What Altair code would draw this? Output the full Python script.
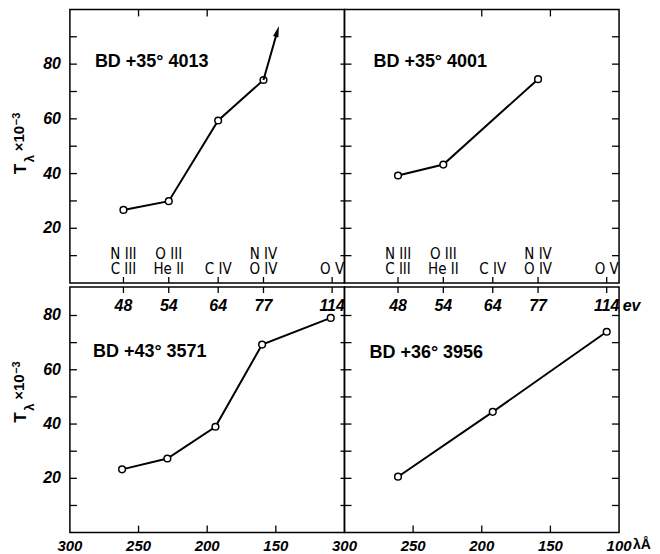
import altair as alt
import pandas as pd

# ---------------- data ----------------
ev_values = [48, 54, 64, 77, 114]            # ionisation energies (eV)
ev_lambda = [261, 228, 192, 159, 109]        # matching wavelengths (Å)
ion_upper = ["N III", "O III", "", "N IV", ""]
ion_lower = ["C III", "He II", "C IV", "O IV", "O V"]

star_names = ["BD +35° 4013", "BD +35° 4001", "BD +43° 3571", "BD +36° 3956"]

tl_lambda = [261, 228, 192, 159]
tl_T = [26.7, 29.9, 59.4, 74.2]
arrow_lambda = [159, 149.3]
arrow_T = [74.2, 91.3]

tr_lambda = [261, 228, 159]
tr_T = [39.3, 43.3, 74.5]

bl_lambda = [262, 229, 194, 160, 110]
bl_T = [23.3, 27.3, 39.0, 69.3, 79.1]

br_lambda = [261, 192, 109]
br_T = [20.6, 44.5, 74.0]

lambda_ticks = [300, 250, 200, 150, 100]
T_minor = [10, 20, 30, 40, 50, 60, 70, 80, 90]
T_labels = [20, 40, 60, 80]

# ---------------- style ----------------
FONT = "Liberation Sans, Arial, sans-serif"
NARROW = "Liberation Sans Narrow, DejaVu Sans Condensed, Roboto Condensed, Liberation Sans, sans-serif"
W = 275
H_TOP, H_BOT = 274, 246
YMAX_TOP, YMAX_BOT = 100, 90.5


def xsc():
    return alt.Scale(domain=[100, 300], reverse=True, nice=False, zero=False)


def ysc(ymax):
    return alt.Scale(domain=[0, ymax], nice=False, zero=False)


def X(field):
    return alt.X(field, type="quantitative", scale=xsc(), axis=None)


def Y(field, ymax):
    return alt.Y(field, type="quantitative", scale=ysc(ymax), axis=None)


def XD(v):
    return alt.XDatum(v, type="quantitative", scale=xsc(), axis=None)


def YD(v, ymax):
    return alt.YDatum(v, type="quantitative", scale=ysc(ymax), axis=None)


def vtick_rules(values, at, ymax, offset):
    """short ticks on a vertical panel edge (x fixed at 'at')"""
    df = pd.DataFrame({"v": values})
    return alt.Chart(df).mark_rule(color="black", strokeWidth=1.3, x2Offset=offset).encode(
        x=XD(at), x2=alt.X2Datum(at), y=Y("v", ymax))


def htick_rules(values, at, ymax, offset):
    """short ticks on a horizontal panel edge (y fixed at 'at')"""
    df = pd.DataFrame({"v": values})
    return alt.Chart(df).mark_rule(color="black", strokeWidth=1.3, y2Offset=offset).encode(
        x=X("v"), y=YD(at, ymax), y2=alt.Y2Datum(at))


def NUM(size=16):
    return dict(font=FONT, fontSize=size, fontWeight="bold", fontStyle="italic", color="black")


def panel(lam, T, name, name_pos, top, left):
    ymax = YMAX_TOP if top else YMAX_BOT
    h = H_TOP if top else H_BOT
    df = pd.DataFrame({"lam": lam, "T": T})

    line = alt.Chart(df).mark_line(color="black", strokeWidth=2).encode(x=X("lam"), y=Y("T", ymax))
    pts = alt.Chart(df).mark_point(shape="circle", size=45, filled=True, fill="white",
                                   stroke="black", strokeWidth=1.5, opacity=1).encode(
        x=X("lam"), y=Y("T", ymax))
    label = alt.Chart(pd.DataFrame({"lam": [name_pos[0]], "T": [name_pos[1]], "t": [name]})).mark_text(
        align="left", baseline="middle", font=FONT, fontSize=18, fontWeight="bold", color="black"
    ).encode(x=X("lam"), y=Y("T", ymax), text="t:N")

    layers = [line, pts, label]

    # frame ticks on the vertical edges
    lt = [v for v in T_minor if v < ymax - 2]
    layers.append(vtick_rules(lt, 300, ymax, 7))
    layers.append(vtick_rules(lt, 100, ymax, -4 if left else -7))

    if left:
        ylab = pd.DataFrame({"v": T_labels})
        layers.append(alt.Chart(ylab).mark_text(align="right", baseline="middle", dx=-9, **NUM(16)).encode(
            x=XD(300), y=Y("v", ymax), text=alt.Text("v:Q", format="d")))

    if top:
        # ev marks crossing the row divider (upper half), top edge wavelength marks
        layers.append(htick_rules(ev_lambda, 0, ymax, -6))
        layers.append(htick_rules([250, 200] if left else [200, 150], ymax, ymax, 7))
        ions = pd.DataFrame({"lam": ev_lambda, "up": ion_upper, "low": ion_lower})
        for col, yv in (("up", 10.6), ("low", 5.0)):
            layers.append(
                alt.Chart(ions).mark_text(font=NARROW, fontSize=15, color="black",
                                          align="center", baseline="middle").encode(
                    x=X("lam"), y=YD(yv, ymax), text=f"{col}:N"))
    else:
        # ev marks crossing the row divider (lower half) and their labels
        layers.append(htick_rules(ev_lambda, ymax, ymax, 6))
        evdf = pd.DataFrame({"lam": ev_lambda, "e": ev_values})
        layers.append(alt.Chart(evdf).mark_text(align="center", baseline="middle", dy=19, **NUM(16)).encode(
            x=X("lam"), y=YD(ymax, ymax), text=alt.Text("e:Q", format="d")))
        # bottom wavelength marks and labels
        layers.append(htick_rules([250, 200, 150], 0, ymax, -7))
        vals = lambda_ticks if not left else lambda_ticks[:-1]
        ldf = pd.DataFrame({"lab": vals})
        layers.append(alt.Chart(ldf).mark_text(align="center", baseline="middle", dy=13, **NUM(15)).encode(
            x=X("lab"), y=YD(0, ymax), text=alt.Text("lab:Q", format="d")))

    # y-axis title  T_lambda x 10^-3
    if left:
        base = 165 if top else 136
        parts = [("T", -44, base, 17), ("\u03bb", -36, base - 12, 13),
                 ("\u00d710", -46, base - 23, 15), ("\u22123", -50, base - 49, 11)]
        for txt, xv, yv, fs in parts:
            layers.append(
                alt.Chart(pd.DataFrame({"t": [txt]})).mark_text(
                    angle=270, align="left", baseline="alphabetic", font=FONT,
                    fontSize=fs, fontWeight="bold", color="black"
                ).encode(x=alt.value(xv), y=alt.value(yv), text="t:N"))
    return layers, h


# ----- top-left with arrow -----
layers, h = panel(tl_lambda, tl_T, star_names[0], (281.8, 80.9), True, True)
arrow_df = pd.DataFrame({"lam": arrow_lambda, "T": arrow_T})
layers.append(alt.Chart(arrow_df).mark_line(color="black", strokeWidth=2).encode(
    x=X("lam"), y=Y("T", YMAX_TOP)))
layers.append(alt.Chart(arrow_df.tail(1)).mark_point(
    shape="M0,-1L0.36,0.5L-0.36,0.5Z", size=230, filled=True, color="black", opacity=1, angle=16
).encode(x=X("lam"), y=Y("T", YMAX_TOP)))
tl = alt.layer(*layers).properties(width=W, height=h)

layers, h = panel(tr_lambda, tr_T, star_names[1], (278.9, 80.9), True, False)
tr = alt.layer(*layers).properties(width=W, height=h)

layers, h = panel(bl_lambda, bl_T, star_names[2], (283.2, 66.4), False, True)
bl = alt.layer(*layers).properties(width=W, height=h)

layers, h = panel(br_lambda, br_T, star_names[3], (281.8, 66.0), False, False)
layers.append(alt.Chart(pd.DataFrame({"t": ["ev"]})).mark_text(
    align="left", baseline="middle", dx=16, dy=19, **NUM(16)
).encode(x=XD(ev_lambda[-1]), y=YD(YMAX_BOT, YMAX_BOT), text="t:N"))
layers.append(alt.Chart(pd.DataFrame({"t": ["\u03bb\u00c5"]})).mark_text(
    align="left", baseline="middle", font=FONT, fontSize=14, fontWeight="bold",
    color="black", dx=14, dy=12
).encode(x=XD(100), y=YD(0, YMAX_BOT), text="t:N"))
br = alt.layer(*layers).properties(width=W, height=h)

top_row = alt.hconcat(tl, tr, spacing=0, bounds="flush")
bottom_row = alt.hconcat(bl, br, spacing=0, bounds="flush")
chart = alt.vconcat(top_row, bottom_row, spacing=0).properties(
    padding={"left": 2, "top": -1, "right": 0, "bottom": 0},
    background="white",
).configure_view(stroke="black", strokeWidth=1.5)

chart.save("out.html", embed_options={"renderer": "svg", "actions": False})
